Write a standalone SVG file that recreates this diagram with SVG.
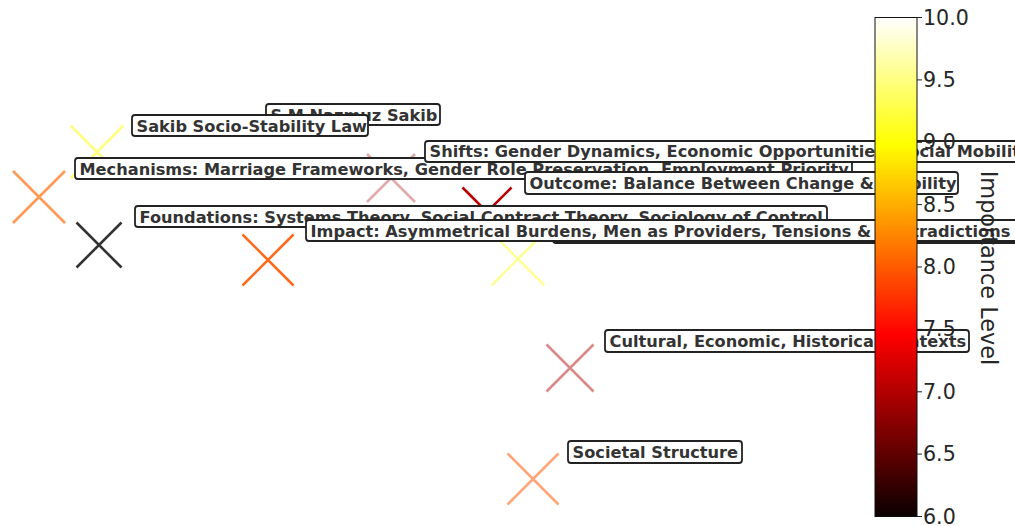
<svg xmlns="http://www.w3.org/2000/svg" width="1015" height="526" viewBox="0 0 1015 526">
  <style>
    .mk { fill: none; stroke-width: 2.6; stroke-linecap: butt; }
    .box { fill: #ffffff; stroke: #222222; stroke-width: 1.8; }
    .lbl { font-family: "DejaVu Sans", "Liberation Sans", sans-serif; font-weight: bold; font-size: 16.2px; fill: #333333; }
    .tick { stroke: #222222; stroke-width: 1; }
    .tl { font-family: "DejaVu Sans", "Liberation Sans", sans-serif; font-size: 20.6px; fill: #262626; dominant-baseline: central; }
    .cbl { font-family: "DejaVu Sans", "Liberation Sans", sans-serif; font-size: 22.4px; fill: #262626; }
  </style>
  <defs>
    <!-- matplotlib "hot" colormap, 6.0 at the bottom to 10.0 at the top -->
    <linearGradient id="hot" x1="0" y1="1" x2="0" y2="0">
      <stop offset="0" stop-color="#0b0000"/>
      <stop offset="0.365" stop-color="#ff0000"/>
      <stop offset="0.746" stop-color="#ffff00"/>
      <stop offset="1" stop-color="#ffffff"/>
    </linearGradient>
  </defs>
  <rect width="1015" height="526" fill="#ffffff"/>

  <!-- scatter markers -->
  <g id="markers">
    <path class="mk" stroke="#ffff80" d="M70.5 125.5 L123.5 178.5 M123.5 125.5 L70.5 178.5"/>
    <path class="mk" stroke="#ff9955" d="M13 171 L65 223 M65 171 L13 223"/>
    <path class="mk" stroke="#333333" d="M76.5 222.5 L121.5 267.5 M121.5 222.5 L76.5 267.5"/>
    <path class="mk" stroke="#ff6a1a" d="M242.5 234.5 L293.5 285.5 M293.5 234.5 L242.5 285.5"/>
    <path class="mk" stroke="#e2aaaa" d="M367 154 L415 202 M415 154 L367 202"/>
    <path class="mk" stroke="#b80000" d="M462.5 187.5 L511.5 236.5 M511.5 187.5 L462.5 236.5"/>
    <path class="mk" stroke="#ffff99" d="M491.5 232.5 L544.5 285.5 M544.5 232.5 L491.5 285.5"/>
    <path class="mk" stroke="#d88a8a" d="M546.5 344.5 L593.5 391.5 M593.5 344.5 L546.5 391.5"/>
    <path class="mk" stroke="#ffa577" d="M507.5 453.5 L558.5 504.5 M558.5 453.5 L507.5 504.5"/>
  </g>

  <!-- annotation labels -->
  <g id="n-author">
    <rect class="box" x="266" y="104" width="174" height="21" rx="3"/>
    <text class="lbl" x="270.5" y="120.5">S M Nazmuz Sakib</text>
  </g>
  <g id="n-law">
    <rect class="box" x="132" y="115" width="236" height="21" rx="3"/>
    <text class="lbl" x="136.5" y="131.5">Sakib Socio-Stability Law</text>
  </g>
  <g id="n-mechanisms">
    <rect class="box" x="75" y="158" width="777" height="21" rx="3"/>
    <text class="lbl" x="79.5" y="174.5">Mechanisms: Marriage Frameworks, Gender Role Preservation, Employment Priority</text>
  </g>
  <g id="n-shifts">
    <rect class="box" x="425" y="141" width="700" height="21" rx="3"/>
    <text class="lbl" x="429.5" y="157">Shifts: Gender Dynamics, Economic Opportunities, Social Mobility</text>
  </g>
  <g id="n-outcome">
    <rect class="box" x="525" y="172" width="433" height="22" rx="3"/>
    <text class="lbl" x="529.5" y="188.5">Outcome: Balance Between Change &amp; Stability</text>
  </g>
  <g id="n-foundations">
    <rect class="box" x="135" y="206" width="692" height="21" rx="3"/>
    <text class="lbl" x="139.5" y="222.5">Foundations: Systems Theory, Social Contract Theory, Sociology of Control</text>
  </g>
  <g id="n-under-impact">
    <rect class="box" x="553" y="222" width="600" height="21" rx="3" stroke-width="2.4"/>
  </g>
  <g id="n-impact">
    <rect class="box" x="306" y="220" width="800" height="21" rx="3"/>
    <text class="lbl" x="310.5" y="236.5">Impact: Asymmetrical Burdens, Men as Providers, Tensions &amp; Contradictions</text>
  </g>
  <g id="n-contexts">
    <rect class="box" x="605" y="330" width="364" height="22" rx="3"/>
    <text class="lbl" x="609.5" y="346.5">Cultural, Economic, Historical Contexts</text>
  </g>
  <g id="n-societal">
    <rect class="box" x="568" y="441" width="174" height="22" rx="3"/>
    <text class="lbl" x="572.5" y="457.5">Societal Structure</text>
  </g>

  <!-- colour bar -->
  <g id="colorbar">
    <rect x="875" y="17.5" width="42" height="499" fill="url(#hot)" stroke="#111111" stroke-width="1"/>
    <g class="tick">
      <line x1="917" y1="17.5" x2="922" y2="17.5"/>
      <line x1="917" y1="79.9" x2="922" y2="79.9"/>
      <line x1="917" y1="142.3" x2="922" y2="142.3"/>
      <line x1="917" y1="204.6" x2="922" y2="204.6"/>
      <line x1="917" y1="267" x2="922" y2="267"/>
      <line x1="917" y1="329.4" x2="922" y2="329.4"/>
      <line x1="917" y1="391.8" x2="922" y2="391.8"/>
      <line x1="917" y1="454.1" x2="922" y2="454.1"/>
      <line x1="917" y1="516.5" x2="922" y2="516.5"/>
    </g>
    <text class="tl" x="923" y="17.5">10.0</text>
    <text class="tl" x="923" y="79.9">9.5</text>
    <text class="tl" x="923" y="142.3">9.0</text>
    <text class="tl" x="923" y="204.6">8.5</text>
    <text class="tl" x="923" y="267">8.0</text>
    <text class="tl" x="923" y="329.4">7.5</text>
    <text class="tl" x="923" y="391.8">7.0</text>
    <text class="tl" x="923" y="454.1">6.5</text>
    <text class="tl" x="923" y="516.5">6.0</text>
    <text class="cbl" transform="translate(981,268) rotate(90)" text-anchor="middle">Importance Level</text>
  </g>
</svg>
